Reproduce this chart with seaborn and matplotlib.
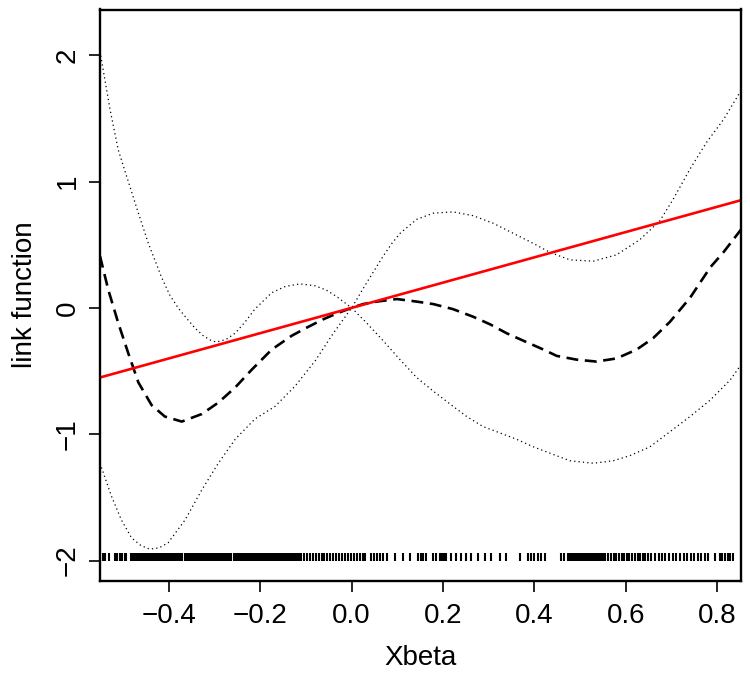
import matplotlib
matplotlib.use("Agg")
import seaborn as sns
import matplotlib.pyplot as plt

# estimated link function (dashed)
fit_x = [-0.551, -0.533, -0.511, -0.489, -0.467, -0.438, -0.409, -0.372, -0.328, -0.292,
         -0.255, -0.219, -0.175, -0.131, -0.095, -0.062, -0.030, 0.0, 0.025, 0.055,
         0.099, 0.142, 0.179, 0.222, 0.266, 0.303, 0.339, 0.376, 0.420, 0.449,
         0.493, 0.536, 0.580, 0.624, 0.660, 0.697, 0.741, 0.785, 0.814, 0.8525]
fit_y = [0.41, 0.145, -0.12, -0.36, -0.59, -0.77, -0.86, -0.90, -0.84, -0.75,
         -0.63, -0.49, -0.33, -0.22, -0.15, -0.09, -0.04, 0.0, 0.03, 0.05,
         0.07, 0.05, 0.03, -0.01, -0.07, -0.13, -0.20, -0.26, -0.33, -0.38,
         -0.41, -0.425, -0.40, -0.33, -0.24, -0.11, 0.08, 0.32, 0.44, 0.62]

# confidence band, curve starting top-left
band_a_x = [-0.551, -0.529, -0.511, -0.489, -0.467, -0.445, -0.416, -0.398, -0.380, -0.362,
            -0.343, -0.325, -0.307, -0.296, -0.275, -0.255, -0.233, -0.212, -0.175, -0.145,
            -0.113, -0.080, -0.055, -0.033, 0.0, 0.033, 0.069, 0.106, 0.142, 0.179,
            0.215, 0.252, 0.288, 0.325, 0.361, 0.398, 0.434, 0.478, 0.529, 0.573,
            0.609, 0.653, 0.697, 0.741, 0.785, 0.829, 0.8525]
band_a_y = [2.03, 1.57, 1.25, 1.00, 0.75, 0.51, 0.24, 0.10, 0.0, -0.08,
            -0.16, -0.22, -0.26, -0.27, -0.25, -0.20, -0.11, -0.01, 0.12, 0.17,
            0.19, 0.175, 0.14, 0.09, 0.0, -0.12, -0.26, -0.41, -0.55, -0.66,
            -0.76, -0.86, -0.94, -0.99, -1.04, -1.10, -1.15, -1.21, -1.23, -1.21,
            -1.17, -1.10, -0.98, -0.86, -0.73, -0.57, -0.45]

# confidence band, curve starting bottom-left
band_b_x = [-0.551, -0.526, -0.504, -0.482, -0.462, -0.442, -0.422, -0.402, -0.365, -0.328,
            -0.292, -0.255, -0.212, -0.168, -0.124, -0.080, -0.040, 0.0, 0.033, 0.069,
            0.088, 0.106, 0.142, 0.179, 0.222, 0.266, 0.310, 0.354, 0.398, 0.434,
            0.478, 0.529, 0.580, 0.631, 0.675, 0.704, 0.741, 0.777, 0.814, 0.8525]
band_b_y = [-1.23, -1.49, -1.68, -1.82, -1.88, -1.91, -1.90, -1.86, -1.68, -1.44,
            -1.23, -1.04, -0.88, -0.78, -0.62, -0.42, -0.20, 0.0, 0.20, 0.41,
            0.51, 0.59, 0.70, 0.75, 0.76, 0.73, 0.67, 0.59, 0.51, 0.44,
            0.38, 0.37, 0.42, 0.54, 0.69, 0.86, 1.10, 1.31, 1.49, 1.72]

# observed Xbeta values (rug)
rug_x = [-0.545, -0.540, -0.531, -0.518, -0.513, -0.508, -0.503, -0.497, -0.494, -0.483,
         -0.479, -0.475, -0.471, -0.467, -0.463,
         -0.459, -0.455, -0.452, -0.448, -0.444, -0.441, -0.437, -0.433, -0.429, -0.426,
         -0.422, -0.418, -0.414, -0.410, -0.407, -0.403, -0.399, -0.395, -0.391, -0.388,
         -0.384, -0.380, -0.376, -0.372, -0.365, -0.361, -0.357, -0.353, -0.350, -0.346,
         -0.342, -0.338, -0.334, -0.330, -0.327, -0.323, -0.319, -0.315, -0.311, -0.307,
         -0.303, -0.300, -0.296, -0.292, -0.288, -0.284, -0.280, -0.276, -0.272, -0.268,
         -0.264, -0.257, -0.253, -0.249, -0.245, -0.241, -0.238, -0.234, -0.230, -0.226,
         -0.222, -0.218, -0.214, -0.210, -0.206, -0.202, -0.198, -0.195, -0.191, -0.187,
         -0.183, -0.179, -0.175, -0.171, -0.167, -0.163, -0.159, -0.155, -0.151, -0.147,
         -0.143, -0.139, -0.135, -0.131, -0.127, -0.123, -0.119, -0.115, -0.111,
         -0.104, -0.098, -0.091, -0.085, -0.079, -0.072, -0.066, -0.060, -0.053, -0.047,
         -0.040, -0.034, -0.027, -0.021, -0.015, -0.008, -0.002, 0.005, 0.011, 0.018,
         0.024, 0.030, 0.042, 0.048, 0.055, 0.062, 0.069, 0.078, 0.094, 0.112,
         0.127, 0.145, 0.151, 0.156, 0.163, 0.178, 0.185, 0.193, 0.198, 0.203,
         0.207, 0.218, 0.229, 0.240, 0.251, 0.262, 0.277, 0.291, 0.306, 0.324,
         0.339, 0.368, 0.386, 0.393, 0.400, 0.407, 0.415, 0.423, 0.459, 0.466,
         0.474, 0.478, 0.482, 0.486, 0.490, 0.494, 0.498, 0.502, 0.506, 0.510,
         0.514, 0.518, 0.522, 0.526, 0.530, 0.534, 0.538, 0.542, 0.546, 0.550,
         0.555, 0.562, 0.568, 0.574, 0.579, 0.585, 0.591, 0.597, 0.603, 0.608,
         0.614, 0.620, 0.626, 0.632, 0.637, 0.643, 0.649, 0.656, 0.664, 0.672,
         0.679, 0.687, 0.695, 0.703, 0.711, 0.719, 0.727, 0.734, 0.742, 0.750,
         0.758, 0.766, 0.773, 0.780, 0.795, 0.806, 0.811, 0.817, 0.823, 0.829,
         0.835]
rug_level = -1.97

# identity link for reference
ref_slope = 1.0

x_ticks = [-0.4, -0.2, 0.0, 0.2, 0.4, 0.6, 0.8]
x_tick_labels = ["\u22120.4", "\u22120.2", "0.0", "0.2", "0.4", "0.6", "0.8"]
y_ticks = [-2, -1, 0, 1, 2]
y_tick_labels = ["\u22122", "\u22121", "0", "1", "2"]

sns.set_style("ticks")
plt.rcParams['font.family'] = ['Liberation Sans Narrow', 'Liberation Sans', 'DejaVu Sans']
plt.rcParams['text.color'] = 'black'
plt.rcParams['axes.labelcolor'] = 'black'
plt.rcParams['xtick.color'] = 'black'
plt.rcParams['ytick.color'] = 'black'

fig = plt.figure(figsize=(7.5, 6.77), dpi=100)
ax = fig.add_axes([100 / 750, 1 - 580.5 / 677, 641 / 750, 571 / 677])

# bands (dotted)
sns.lineplot(x=band_a_x, y=band_a_y, ax=ax, sort=False, estimator=None,
             color='black', linestyle=(0, (1, 2.5)), linewidth=0.9)
sns.lineplot(x=band_b_x, y=band_b_y, ax=ax, sort=False, estimator=None,
             color='black', linestyle=(0, (1, 2.5)), linewidth=0.9)
# fitted link (dashed)
sns.lineplot(x=fit_x, y=fit_y, ax=ax, sort=False, estimator=None,
             color='black', linestyle=(0, (4.5, 2.5)), linewidth=1.9)
# reference line
ax.axline((0, 0), slope=ref_slope, color='red', linewidth=1.9)
# rug of observations
sns.scatterplot(x=rug_x, y=[rug_level] * len(rug_x), ax=ax, marker='|',
                s=36, color='black', edgecolor='black', linewidth=1.5)

ax.set_xlim(-0.551, 0.8525)
ax.set_ylim(-2.158, 2.362)
ax.set_xticks(x_ticks, labels=x_tick_labels)
ax.set_yticks(y_ticks, labels=y_tick_labels)
ax.tick_params(axis='both', length=8, width=1.2, labelsize=20, color='black',
               labelcolor='black')
ax.tick_params(axis='x', pad=8)
ax.tick_params(axis='y', pad=6, labelrotation=90)
for lab in ax.get_yticklabels():
    lab.set_verticalalignment('center')
for s in ax.spines.values():
    s.set_linewidth(1.7)
    s.set_color('black')

ax.set_xlabel('Xbeta', fontsize=20, labelpad=12)
ax.set_ylabel('link function', fontsize=20, labelpad=12)

fig.savefig('out.png', dpi=100)
